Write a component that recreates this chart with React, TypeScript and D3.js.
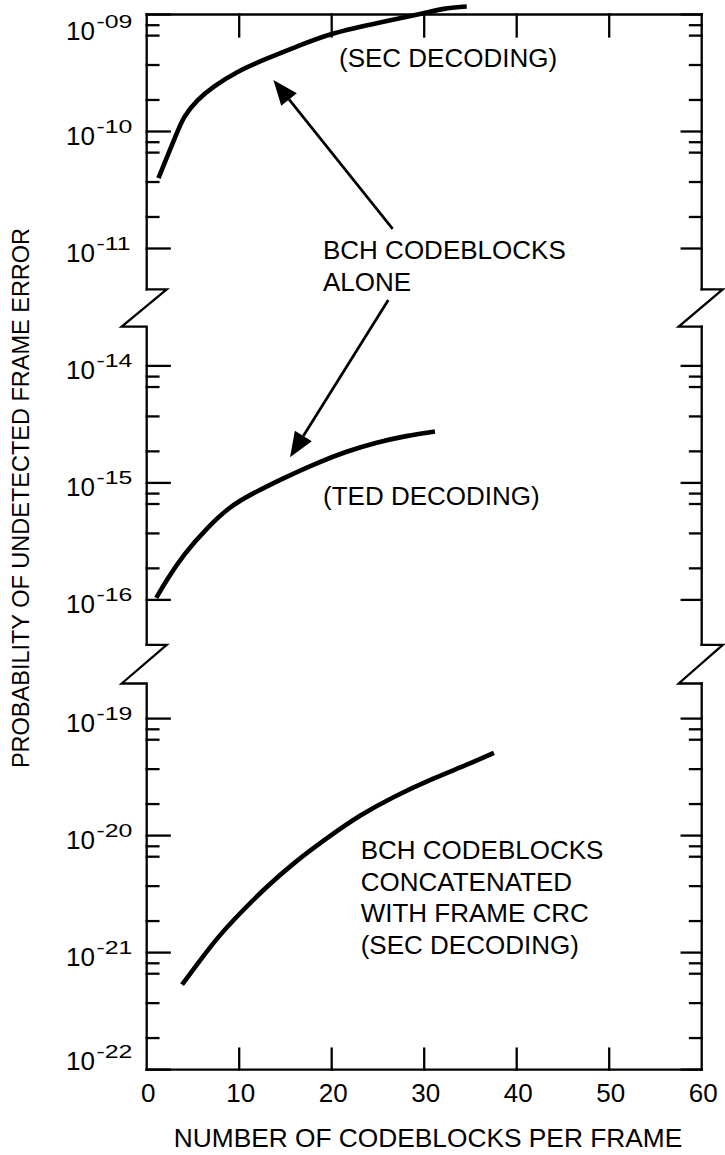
import React from 'react';
import * as d3 from 'd3';

// ---- data ----
const xTickValues = [0, 10, 20, 30, 40, 50, 60];
const innerXTicks = [10, 20, 30, 40, 50];

// BCH codeblocks alone, SEC decoding
const secX = [1.27, 3.26, 3.98, 5.42, 7.18, 9.74, 12.58, 16.22, 19.84, 25.58, 29.9, 32.06, 34.6];
const secY = [4.0e-11, 9.7e-11, 1.34e-10, 1.86e-10, 2.42e-10, 3.25e-10, 4.08e-10, 5.31e-10, 6.92e-10, 8.69e-10, 1.02e-9, 1.13e-9, 1.17e-9];

// BCH codeblocks alone, TED decoding
const tedX = [1.03, 2.18, 3.97, 6.5, 9.02, 11.18, 14.78, 18.38, 21.62, 24.86, 28.1, 31.16];
const tedY = [1.04e-16, 1.49e-16, 2.44e-16, 4.12e-16, 6.3e-16, 7.93e-16, 1.1e-15, 1.48e-15, 1.86e-15, 2.22e-15, 2.53e-15, 2.75e-15];

// BCH codeblocks concatenated with frame CRC, SEC decoding
const crcX = [3.82, 5.42, 7.58, 10.1, 12.98, 15.86, 19.46, 23.06, 26.66, 30.98, 34.59, 37.54];
const crcY = [5.32e-22, 7.87e-22, 1.33e-21, 2.18e-21, 3.67e-21, 5.82e-21, 9.51e-21, 1.5e-20, 2.15e-20, 3.09e-20, 4.01e-20, 5.1e-20];

// broken log axis: exponents shown in each segment
const segHiExp = [-9, -13.665, -18.7];
const segLoExp = [-11.35, -16.385, -22];
const segMajors = [[-9, -10, -11], [-14, -15, -16], [-19, -20, -21, -22]];
const minorMultipliers = [1.86, 3.7, 6.6, 8.1];

// annotation arrows: [tailX, tailY, tipX, tipY, segmentIndex]
const arrowDefs: [number, number, number, number, number][] = [
  [26.59, 1.47e-11, 13.7, 2.76e-10, 0],
  [26.12, 3.66e-14, 15.5, 1.66e-15, 1],
];

// ---- layout ----
const W = 725;
const H = 1155;
const xL = 146.7;
const xR = 701.7;
const segTop = [14.5, 326.7, 683.5];
const pxPerDecade = 117;
const FONT = "'Liberation Sans', Arial, Helvetica, sans-serif";
const FS = 26;

const x = d3.scaleLinear().domain([0, 60]).range([xL, xR]);
const yScales = segTop.map((t, i) =>
  d3
    .scaleLog()
    .domain([Math.pow(10, segLoExp[i]), Math.pow(10, segHiExp[i])])
    .range([t + (segHiExp[i] - segLoExp[i]) * pxPerDecade, t])
);
const segBottom = yScales.map((s) => s.range()[0]);

function curvePath(xs: number[], ys: number[], seg: number) {
  const y = yScales[seg];
  const pts: [number, number][] = xs.map((v, i) => [v, ys[i]]);
  return (
    d3
      .line<[number, number]>()
      .x((d) => x(d[0]))
      .y((d) => y(d[1]))
      .curve(d3.curveBasis)(pts) || ''
  );
}

function Arrow({ def }: { def: [number, number, number, number, number] }) {
  const [tx, ty, hx, hy, seg] = def;
  const y = yScales[seg];
  const x1 = x(tx), y1 = y(ty), x2 = x(hx), y2 = y(hy);
  const dx = x1 - x2, dy = y1 - y2;
  const len = Math.hypot(dx, dy);
  const ux = dx / len, uy = dy / len;
  const headLen = 25, half = 10;
  const bx = x2 + ux * headLen, by = y2 + uy * headLen;
  const p1 = [bx - uy * half, by + ux * half];
  const p2 = [bx + uy * half, by - ux * half];
  return (
    <g>
      <line x1={x1} y1={y1} x2={bx} y2={by} stroke="#000" strokeWidth={2.7} />
      <polygon points={`${x2},${y2} ${p1[0]},${p1[1]} ${p2[0]},${p2[1]}`} fill="#000" />
    </g>
  );
}

export default function App() {
  const frame: JSX.Element[] = [];
  segTop.forEach((t, i) => {
    frame.push(<line key={`vl${i}`} x1={xL} x2={xL} y1={t} y2={segBottom[i]} />);
    frame.push(<line key={`vr${i}`} x1={xR} x2={xR} y1={t} y2={segBottom[i]} />);
  });
  for (let i = 0; i < segTop.length - 1; i++) {
    const b = segBottom[i];
    const n = segTop[i + 1];
    frame.push(
      <path key={`bl${i}`} d={`M${xL},${b} H${xL + 20} L${xL - 25},${n} H${xL - 2}`} fill="none" strokeLinejoin="miter" />
    );
    frame.push(
      <path key={`br${i}`} d={`M${xR},${b} H${xR + 21} L${xR - 23},${n} H${xR}`} fill="none" strokeLinejoin="miter" />
    );
  }
  frame.push(<line key="top" x1={xL} x2={xR} y1={segTop[0]} y2={segTop[0]} />);
  frame.push(<line key="bot" x1={xL} x2={xR} y1={segBottom[2]} y2={segBottom[2]} />);

  const yTicks: JSX.Element[] = [];
  const yLabels: JSX.Element[] = [];
  segMajors.forEach((majors, si) => {
    const y = yScales[si];
    majors.forEach((e, k) => {
      const yy = y(Math.pow(10, e));
      yTicks.push(<line key={`M${si}${k}l`} x1={xL} x2={xL + 23} y1={yy} y2={yy} />);
      yTicks.push(<line key={`M${si}${k}r`} x1={xR} x2={xR - 20} y1={yy} y2={yy} />);
      const base = Math.min(Math.max(yy + 13, 40), 1070);
      const sup = '-' + String(Math.abs(e)).padStart(2, '0');
      yLabels.push(
        <g key={`lab${si}${k}`}>
          <text x={66} y={base} fontSize={FS}>10</text>
          <text fontSize={17.5} transform={`translate(96.5,${base - 11.7}) scale(1.42,1)`}>
            {sup}
          </text>
        </g>
      );
      if (k < majors.length - 1) {
        const lower = Math.pow(10, majors[k + 1]);
        minorMultipliers.forEach((m, mi) => {
          const ym = y(lower * m);
          yTicks.push(<line key={`m${si}${k}${mi}l`} x1={xL} x2={xL + 11.7} y1={ym} y2={ym} />);
          yTicks.push(<line key={`m${si}${k}${mi}r`} x1={xR} x2={xR - 11.7} y1={ym} y2={ym} />);
        });
      }
    });
  });

  const xTickEls = innerXTicks.map((v) => (
    <g key={`xt${v}`}>
      <line x1={x(v)} x2={x(v)} y1={segTop[0]} y2={segTop[0] + 22} />
      <line x1={x(v)} x2={x(v)} y1={segBottom[2]} y2={segBottom[2] - 21} />
    </g>
  ));

  return (
    <svg
      width={W}
      height={H}
      viewBox={`0 0 ${W} ${H}`}
      style={{ position: 'absolute', left: 0, top: 0, background: '#fff' }}
      fontFamily={FONT}
    >
      <rect x={0} y={0} width={W} height={H} fill="#fff" />
      <g stroke="#000" strokeWidth={2.3} strokeLinecap="square">
        {frame}
        {yTicks}
        {xTickEls}
      </g>

      <g fill="none" stroke="#000" strokeWidth={4.6}>
        <path d={curvePath(secX, secY, 0)} />
        <path d={curvePath(tedX, tedY, 1)} />
        <path d={curvePath(crcX, crcY, 2)} />
      </g>

      {arrowDefs.map((d, i) => (
        <Arrow key={i} def={d} />
      ))}

      <g fill="#000">{yLabels}</g>

      <g fontSize={FS} fill="#000">
        {xTickValues.map((v) => (
          <text key={`xl${v}`} x={x(v) + 1.5} y={1101.7} textAnchor="middle">
            {v}
          </text>
        ))}
        <text x={428} y={1146.5} textAnchor="middle" fontSize={26.3}>NUMBER OF CODEBLOCKS PER FRAME</text>
        <text transform="translate(29,498) rotate(-90)" textAnchor="middle" fontSize={23.5}>
          PROBABILITY OF UNDETECTED FRAME ERROR
        </text>

        <text x={339} y={67}>(SEC DECODING)</text>
        <text x={323} y={259.3}>BCH CODEBLOCKS</text>
        <text x={323} y={291}>ALONE</text>
        <text x={323} y={505}>(TED DECODING)</text>
        <text x={360.7} y={859.3}>BCH CODEBLOCKS</text>
        <text x={360.7} y={890.8}>CONCATENATED</text>
        <text x={360.7} y={922.3}>WITH FRAME CRC</text>
        <text x={360.7} y={953.8}>(SEC DECODING)</text>
      </g>
    </svg>
  );
}
